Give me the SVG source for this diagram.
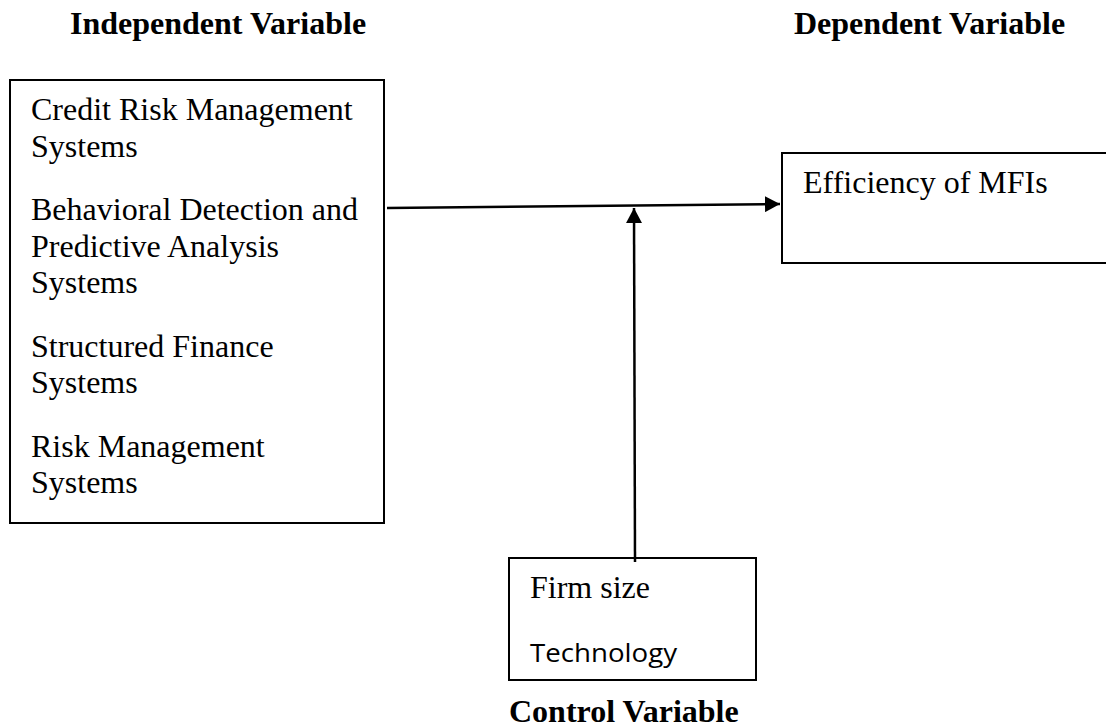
<svg xmlns="http://www.w3.org/2000/svg" width="1106" height="727" viewBox="0 0 1106 727">
<style>
.box{fill:none;stroke:#000;stroke-width:2}
.t{font-family:"Liberation Serif","Times New Roman",serif;font-size:32px;fill:#000}
.h{font-family:"Liberation Serif","Times New Roman",serif;font-size:32px;font-weight:bold;fill:#000}
.s{font-family:"Open Sans","Noto Sans",sans-serif;font-size:26px;fill:#000}
.c{stroke:#000;stroke-width:2.5;fill:none}
</style>
<defs>
<marker id="ah" markerWidth="16" markerHeight="16" refX="15" refY="8" orient="auto" markerUnits="userSpaceOnUse">
<path d="M0,0 L15,8 L0,16 Z" fill="#000"/>
</marker>
</defs>
<rect width="1106" height="727" fill="#fff"/>
<g id="title-independent"><text class="h" x="70" y="34">Independent Variable</text></g>
<g id="title-dependent"><text class="h" x="794" y="34">Dependent Variable</text></g>
<g id="independent">
<rect class="box" x="10" y="80" width="374" height="443"/>
<text class="t" x="31" y="120">Credit Risk Management</text>
<text class="t" x="31" y="157">Systems</text>
<text class="t" x="31" y="220">Behavioral Detection and</text>
<text class="t" x="31" y="257">Predictive Analysis</text>
<text class="t" x="31" y="293">Systems</text>
<text class="t" x="31" y="357">Structured Finance</text>
<text class="t" x="31" y="393">Systems</text>
<text class="t" x="31" y="457">Risk Management</text>
<text class="t" x="31" y="493">Systems</text>
</g>
<g id="dependent">
<rect class="box" x="782" y="153" width="340" height="110"/>
<text class="t" x="803" y="193">Efficiency of MFIs</text>
</g>
<g id="control">
<rect class="box" x="509" y="558" width="247" height="122"/>
<text class="t" x="530" y="598">Firm size</text>
<text class="s" x="530" y="662" textLength="147" lengthAdjust="spacingAndGlyphs">Technology</text>
</g>
<g id="title-control"><text class="h" x="509" y="722">Control Variable</text></g>
<g id="connectors">
<line class="c" x1="387" y1="208" x2="780" y2="204" marker-end="url(#ah)"/>
<line class="c" x1="635" y1="562" x2="634" y2="208" marker-end="url(#ah)"/>
</g>
</svg>
